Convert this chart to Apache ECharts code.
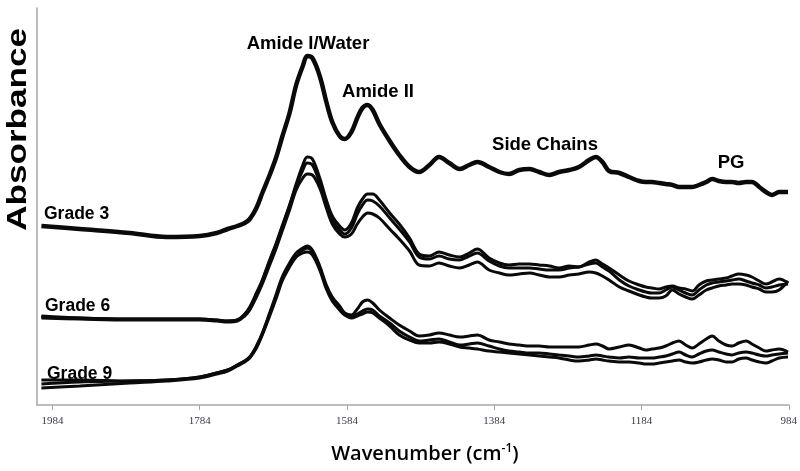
<!DOCTYPE html>
<html>
<head>
<meta charset="utf-8">
<script src="https://cdn.jsdelivr.net/npm/echarts@6/dist/echarts.min.js"></script>
<style>
html,body{margin:0;padding:0;background:#fff;}
#chart{width:800px;height:471px;}
</style>
</head>
<body>
<div id="chart"></div>
<script>
// Wavenumber (cm-1) sample positions shared by all spectra
const wavenumbers = [1999,1947,1879,1829,1784,1761,1746,1733,1723,1716,1707,1699,1689,1680,1672,1662,1653,1644,1638,1631,1621,1612,1604,1594,1587,1578,1570,1563,1556,1549,1540,1526,1513,1499,1486,1472,1459,1445,1431,1418,1407,1391,1377,1364,1350,1336,1323,1309,1296,1282,1269,1255,1246,1237,1228,1214,1201,1187,1178,1170,1160,1151,1142,1133,1124,1115,1106,1096,1088,1079,1069,1061,1052,1042,1034,1024,1015,1007,997,985];

// Absorbance (offset, milli-absorbance units)
const grade3 = [179,176,172,168,169,172,176,179,182,186,197,212,230,248,268,292,320,339,349,347,329,303,283,269,266,273,287,297,300,295,281,264,250,238,233,240,248,242,236,240,243,238,233,231,235,236,233,230,233,235,238,245,248,243,234,232,228,224,223,223,222,221,220,218,218,218,220,223,226,224,223,223,222,223,223,218,213,210,213,213];

const grade6a = [89,87,86,86,86,85,84,85,91,98,112,125,145,162,179,200,221,240,248,246,227,205,189,179,175,182,197,206,211,211,205,192,181,167,151,149,153,150,148,152,156,147,142,140,141,141,140,139,137,139,138,143,145,141,137,130,124,120,118,117,116,118,119,117,116,114,120,124,125,126,127,129,131,130,128,124,121,123,126,122];
const grade6b = [88,87,86,86,86,85,84,85,90,97,111,124,144,161,178,199,219,235,242,240,222,201,185,175,171,177,191,200,205,204,199,187,176,163,148,146,149,146,145,149,152,144,139,137,137,137,136,135,135,137,138,141,142,138,134,125,119,115,113,112,112,115,118,115,112,110,115,120,122,123,124,125,126,124,122,120,117,118,120,121];
const grade6c = [87,86,85,85,85,84,83,84,89,95,108,121,140,157,174,195,215,227,231,230,217,197,181,171,168,171,181,188,192,191,187,176,166,154,140,139,142,139,137,140,143,135,132,130,131,132,130,128,128,130,131,133,132,129,125,118,114,110,108,107,107,109,115,111,108,106,110,115,117,119,120,121,121,120,118,116,113,113,115,124];

const grade9a = [25,25,24,25,28,32,35,40,44,48,59,72,92,111,128,142,152,157,159,155,139,120,108,99,92,90,96,103,105,102,95,87,80,74,69,70,72,70,68,69,70,65,63,61,60,59,59,58,58,58,58,60,61,59,56,58,60,57,55,56,57,59,62,64,60,57,61,66,69,64,60,59,62,64,61,57,54,55,56,53];
const grade9b = [21,23,24,25,28,32,35,40,44,48,58,71,91,109,126,140,150,155,157,153,137,118,106,97,91,88,91,94,96,95,89,82,74,68,64,65,66,63,60,61,62,59,56,54,53,52,52,51,50,49,48,49,50,49,48,47,48,47,47,47,48,49,51,53,50,48,51,54,55,53,51,50,52,53,52,50,49,50,51,52];
const grade9c = [17,19,22,24,27,31,34,39,43,47,57,70,89,107,124,138,148,152,153,150,135,116,104,95,90,87,89,91,93,92,87,79,70,65,62,62,63,61,58,57,56,54,53,52,51,50,49,48,47,45,44,45,46,45,44,43,43,42,41,41,42,43,44,45,43,42,43,45,46,45,43,43,46,47,45,43,42,44,47,48];

const tickValues = [1984,1784,1584,1384,1184,984];

const spectra = [
  {name:'Grade 3', values:grade3, width:4.5},
  {name:'Grade 6 a', values:grade6a, width:3},
  {name:'Grade 6 b', values:grade6b, width:3},
  {name:'Grade 6 c', values:grade6c, width:3},
  {name:'Grade 9 a', values:grade9a, width:3},
  {name:'Grade 9 b', values:grade9b, width:3},
  {name:'Grade 9 c', values:grade9c, width:3}
];

const chart = echarts.init(document.getElementById('chart'));
const peakFont = 'bold 18.5px "Liberation Sans", Arial, sans-serif';
const gradeFont = 'bold 17.5px "Liberation Sans", Arial, sans-serif';

chart.setOption({
  backgroundColor:'#ffffff',
  animation:false,
  grid:{left:37,right:10,top:8,bottom:66},
  xAxis:{
    type:'value', inverse:true, min:984, max:2005,
    splitLine:{show:false},
    axisLine:{show:true, lineStyle:{color:'#a6a6a6', width:1.5}},
    axisTick:{show:true, customValues:tickValues, length:5, lineStyle:{color:'#a6a6a6'}},
    axisLabel:{customValues:tickValues, formatter:v => String(v), color:'#3a3a4a', fontFamily:'"Liberation Serif", serif', fontSize:11, margin:11},
    name:'Wavenumber (cm{sup|-1})',
    nameLocation:'middle', nameGap:38,
    nameTextStyle:{
      fontFamily:'"Open Sans", sans-serif', fontSize:20, fontWeight:600, color:'#000', padding:[0,0,0,24],
      rich:{sup:{fontFamily:'"Open Sans", sans-serif', fontSize:12, fontWeight:600, color:'#000', verticalAlign:'top', padding:[0,0,10,0]}}
    }
  },
  yAxis:{
    type:'value', min:0, max:397,
    splitLine:{show:false},
    axisLine:{show:true, lineStyle:{color:'#a6a6a6', width:1.5}},
    axisTick:{show:false},
    axisLabel:{show:false}
  },
  graphic:[
    {type:'text', left:5, top:28, rotation:Math.PI/2, scaleX:1.3, style:{text:'Absorbance', font:'bold 27px "Liberation Sans", Arial, sans-serif', fill:'#000'}, silent:true},
    {type:'text', style:{text:'Amide I/Water', font:peakFont, fill:'#000', x:308, y:44, align:'center', verticalAlign:'middle'}, silent:true},
    {type:'text', style:{text:'Amide II', font:peakFont, fill:'#000', x:378, y:92, align:'center', verticalAlign:'middle'}, silent:true},
    {type:'text', style:{text:'Side Chains', font:peakFont, fill:'#000', x:545, y:145, align:'center', verticalAlign:'middle'}, silent:true},
    {type:'text', style:{text:'PG', font:peakFont, fill:'#000', x:731, y:163, align:'center', verticalAlign:'middle'}, silent:true},
    {type:'text', style:{text:'Grade 3', font:gradeFont, fill:'#000', x:44, y:214, align:'left', verticalAlign:'middle'}, silent:true},
    {type:'text', style:{text:'Grade 6', font:gradeFont, fill:'#000', x:45, y:306, align:'left', verticalAlign:'middle'}, silent:true},
    {type:'text', style:{text:'Grade 9', font:gradeFont, fill:'#000', x:47, y:374, align:'left', verticalAlign:'middle'}, silent:true}
  ],
  series: spectra.map(s => ({
    type:'line', name:s.name,
    data: wavenumbers.map((w,i) => [w, s.values[i]]),
    showSymbol:false, smooth:0.35,
    lineStyle:{color:'#0a0a0a', width:s.width},
    silent:true
  }))
});
</script>
</body>
</html>
